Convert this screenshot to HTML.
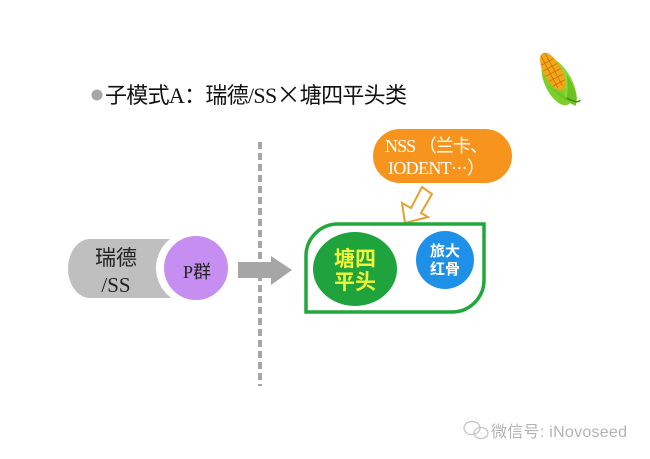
<!DOCTYPE html>
<html><head><meta charset="utf-8">
<style>
html,body{margin:0;padding:0;background:#fff;}
body{width:650px;height:459px;overflow:hidden;}
svg{display:block;}
</style></head>
<body>
<svg width="650" height="459" viewBox="0 0 650 459" xmlns="http://www.w3.org/2000/svg">
<rect width="650" height="459" fill="#fff"/>
<!-- title -->
<circle cx="97" cy="95" r="5.5" fill="#a6a6a6"/>
<text x="105" y="103" font-size="22" fill="#111" textLength="302" lengthAdjust="spacing" font-family="Liberation Serif, Noto Sans CJK SC, serif">子模式A：瑞德/SS<tspan font-family="Noto Sans CJK SC, sans-serif" font-size="24">×</tspan>塘四平头类</text>

<!-- corn -->
<g transform="translate(555,76) rotate(-28)">
  <path d="M-5,-18 C-15,-6 -16,16 -8,28 C-2,34 4,32 6,24 C2,14 -2,-2 -5,-18Z" fill="#7ccf2a"/>
  <path d="M7,-16 C15,-2 15,16 9,30 C5,34 -2,32 -2,26 C4,14 7,0 7,-16Z" fill="#8fd63a"/>
  <ellipse cx="0" cy="-5" rx="9" ry="21" fill="#f0a818"/>
  <g stroke="#c0620a" stroke-width="0.8" opacity="0.8">
    <line x1="-7" y1="-16" x2="7" y2="-16"/><line x1="-8" y1="-10" x2="8" y2="-10"/>
    <line x1="-9" y1="-4" x2="9" y2="-4"/><line x1="-8" y1="2" x2="8" y2="2"/>
    <line x1="-7" y1="8" x2="7" y2="8"/><line x1="-3" y1="-25" x2="-3" y2="12"/>
    <line x1="2" y1="-25" x2="2" y2="12"/>
  </g>
  <path d="M-11,4 C-6,20 0,30 4,36 C10,32 13,18 11,4 C7,16 2,22 0,25 C-4,18 -8,10 -11,4Z" fill="#6cc21e"/>
  <path d="M0,25 C4,31 8,35 11,33" stroke="#3f8a10" stroke-width="1.5" fill="none"/>
</g>

<!-- dashed line -->
<line x1="260" y1="142" x2="260" y2="386" stroke="#a6a6a6" stroke-width="4" stroke-dasharray="7,4"/>

<!-- left cylinder -->
<path d="M90,239 L190,239 L190,298 L90,298 A22,29.5 0 0 1 90,239Z" fill="#bfbfbf"/>
<circle cx="193" cy="268" r="37" fill="#fff"/>
<circle cx="196" cy="268" r="32" fill="#c58ef0"/>
<text x="116" y="265" font-size="21" text-anchor="middle" fill="#222" font-family="Liberation Serif, Noto Sans CJK SC, serif">瑞德</text>
<text x="116" y="292" font-size="21" text-anchor="middle" fill="#222" font-family="Liberation Serif, serif">/SS</text>
<text x="197" y="278" font-size="18" text-anchor="middle" fill="#222" font-family="Liberation Serif, Noto Sans CJK SC, serif">P群</text>

<!-- gray arrow -->
<polygon points="238,262 271,262 271,256 292,270 271,285 271,278 238,278" fill="#a6a6a6"/>

<!-- orange callout -->
<rect x="373" y="129" width="139" height="54" rx="27" ry="27" fill="#f7941d"/>
<text x="385" y="152" font-size="18" fill="#fff" textLength="103" lengthAdjust="spacing" font-family="Liberation Serif, Noto Sans CJK SC, serif">NSS （兰卡、</text>
<text x="388" y="174" font-size="18" fill="#fff" textLength="97" lengthAdjust="spacing" font-family="Liberation Serif, Noto Sans CJK SC, serif">IODENT···）</text>

<!-- hollow arrow -->
<polygon points="405,223 402,203 411,208 422,187 432,194 421,213 428,217" fill="#fff" stroke="#e8a030" stroke-width="2" stroke-linejoin="miter"/>

<!-- green box -->
<path d="M306,312 L306,256 A32,32 0 0 1 338,224 L484,224 L484,280 A32,32 0 0 1 452,312 Z" fill="#fff" stroke="#22a83a" stroke-width="3.5"/>
<ellipse cx="355" cy="269" rx="42" ry="37" fill="#1fa33c"/>
<text x="355" y="266" font-size="21" font-weight="bold" text-anchor="middle" fill="#eef53a" font-family="Noto Sans CJK SC, sans-serif">塘四</text>
<text x="355" y="289" font-size="21" font-weight="bold" text-anchor="middle" fill="#eef53a" font-family="Noto Sans CJK SC, sans-serif">平头</text>
<circle cx="445" cy="260" r="29" fill="#1e90e8"/>
<text x="445" y="256" font-size="15" font-weight="bold" text-anchor="middle" fill="#fff" font-family="Noto Sans CJK SC, sans-serif">旅大</text>
<text x="445" y="274" font-size="15" font-weight="bold" text-anchor="middle" fill="#fff" font-family="Noto Sans CJK SC, sans-serif">红骨</text>

<!-- watermark -->
<g fill="none" stroke="#c4c4c4" stroke-width="1.3">
  <ellipse cx="472" cy="428" rx="8" ry="6.5"/>
  <ellipse cx="481" cy="433" rx="7" ry="5.5"/>
</g>
<text x="491" y="437" font-size="16" fill="#b3b3b3" textLength="136" lengthAdjust="spacing" font-family="Liberation Sans, Noto Sans CJK SC, sans-serif">微信号: iNovoseed</text>
</svg>
</body></html>
